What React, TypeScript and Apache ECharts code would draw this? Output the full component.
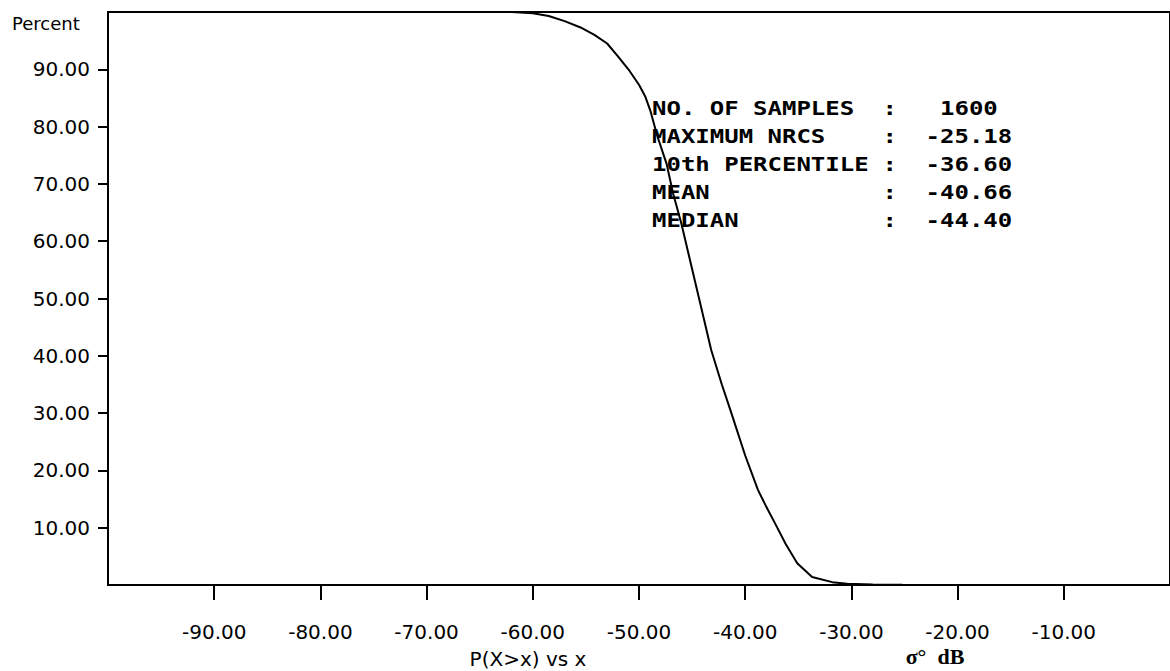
import React, { useEffect, useRef } from "react";
import * as echarts from "echarts";

const xTicks = [-90, -80, -70, -60, -50, -40, -30, -20, -10];
const yTicks = [10, 20, 30, 40, 50, 60, 70, 80, 90];

const curveX = [-66, -62, -60, -58.5, -57, -55.5, -54.2, -53, -52, -51, -50, -49.4, -48.9, -48.3, -47.4, -46.8, -46.0, -45.3, -44.6, -43.9, -43.2, -42.2, -41.3, -40.0, -38.8, -38.0, -37.2, -36.2, -35.1, -33.7, -31.8, -30.4, -28, -25.2];
const curveY = [100, 100, 99.8, 99.3, 98.4, 97.3, 96.0, 94.5, 92.3, 90.0, 87.3, 85.2, 82.6, 78.5, 73.5, 68.4, 63.0, 57.5, 52.0, 46.5, 41.0, 35, 30.0, 22.6, 16.6, 13.6, 10.8, 7.2, 3.8, 1.4, 0.5, 0.2, 0.1, 0.06];

const statLabels = ["NO. OF SAMPLES", "MAXIMUM NRCS", "10th PERCENTILE", "MEAN", "MEDIAN"];
const statValues = ["1600", "-25.18", "-36.60", "-40.66", "-44.40"];

const yTitle = "Percent";
const xTitle = "P(X>x) vs x";
const xUnit = "σ°  dB";

export default function App() {
  const ref = useRef<HTMLDivElement>(null);
  useEffect(() => {
    const chart = echarts.init(ref.current!, null, { renderer: "svg" });
    const pitch = 14.4;
    const x0 = 652;
    const monoBase = { fontFamily: "DejaVu Sans Mono", fontWeight: "bold", fontSize: 20, fill: "#000" };
    const statEls: any[] = [];
    statLabels.forEach((lab, i) => {
      const y = 108 + i * 28;
      statEls.push({ type: "text", x: x0, y, scaleX: 1.2, silent: true, style: { ...monoBase, text: lab, verticalAlign: "middle", align: "left" } });
      statEls.push({ type: "text", x: x0 + 16 * pitch, y, scaleX: 1.2, silent: true, style: { ...monoBase, text: ":", verticalAlign: "middle", align: "left" } });
      const v = statValues[i];
      const idx = v.startsWith("-") ? 19 : 20;
      statEls.push({ type: "text", x: x0 + idx * pitch, y, scaleX: 1.2, silent: true, style: { ...monoBase, text: v, verticalAlign: "middle", align: "left" } });
    });
    chart.setOption({
      animation: false,
      backgroundColor: "#fff",
      grid: { left: 108, top: 12, right: -5, bottom: 86, show: true, borderColor: "#000", borderWidth: 2, containLabel: false },
      xAxis: {
        type: "value",
        min: -100,
        max: 0,
        axisLine: { show: true, onZero: false, lineStyle: { color: "#000", width: 2 } },
        axisTick: { show: true, customValues: xTicks, length: 15, lineStyle: { color: "#000", width: 2 } },
        axisLabel: { show: true, customValues: xTicks, formatter: (v: number) => v.toFixed(2), fontFamily: "DejaVu Sans", fontSize: 20, color: "#000", margin: 37 },
        splitLine: { show: false },
      },
      yAxis: {
        type: "value",
        min: 0,
        max: 100,
        axisLine: { show: true, onZero: false, lineStyle: { color: "#000", width: 2 } },
        axisTick: { show: true, customValues: yTicks, length: 10, lineStyle: { color: "#000", width: 2 } },
        axisLabel: { show: true, customValues: yTicks, formatter: (v: number) => v.toFixed(2), fontFamily: "DejaVu Sans", fontSize: 20, color: "#000", margin: 18 },
        splitLine: { show: false },
      },
      series: [
        {
          type: "line",
          data: curveX.map((x, i) => [x, curveY[i]]),
          showSymbol: false,
          smooth: false,
          lineStyle: { color: "#000", width: 2 },
          clip: false,
        },
      ],
      graphic: [
        { type: "text", x: 12, y: 23, silent: true, style: { text: yTitle, fontFamily: "DejaVu Sans", fontSize: 18, fill: "#000", verticalAlign: "middle", align: "left" } },
        { type: "text", x: 528, y: 659, silent: true, style: { text: xTitle, fontFamily: "DejaVu Sans", fontSize: 20, fill: "#000", verticalAlign: "middle", align: "center" } },
        { type: "text", x: 935, y: 656, silent: true, style: { text: xUnit, fontFamily: "Liberation Serif", fontWeight: "bold", fontSize: 22, fill: "#000", verticalAlign: "middle", align: "center" } },
        ...statEls,
      ],
    });
    return () => chart.dispose();
  }, []);
  return <div ref={ref} style={{ position: "fixed", left: 0, top: 0, width: 1170, height: 671, background: "#fff" }} />;
}
